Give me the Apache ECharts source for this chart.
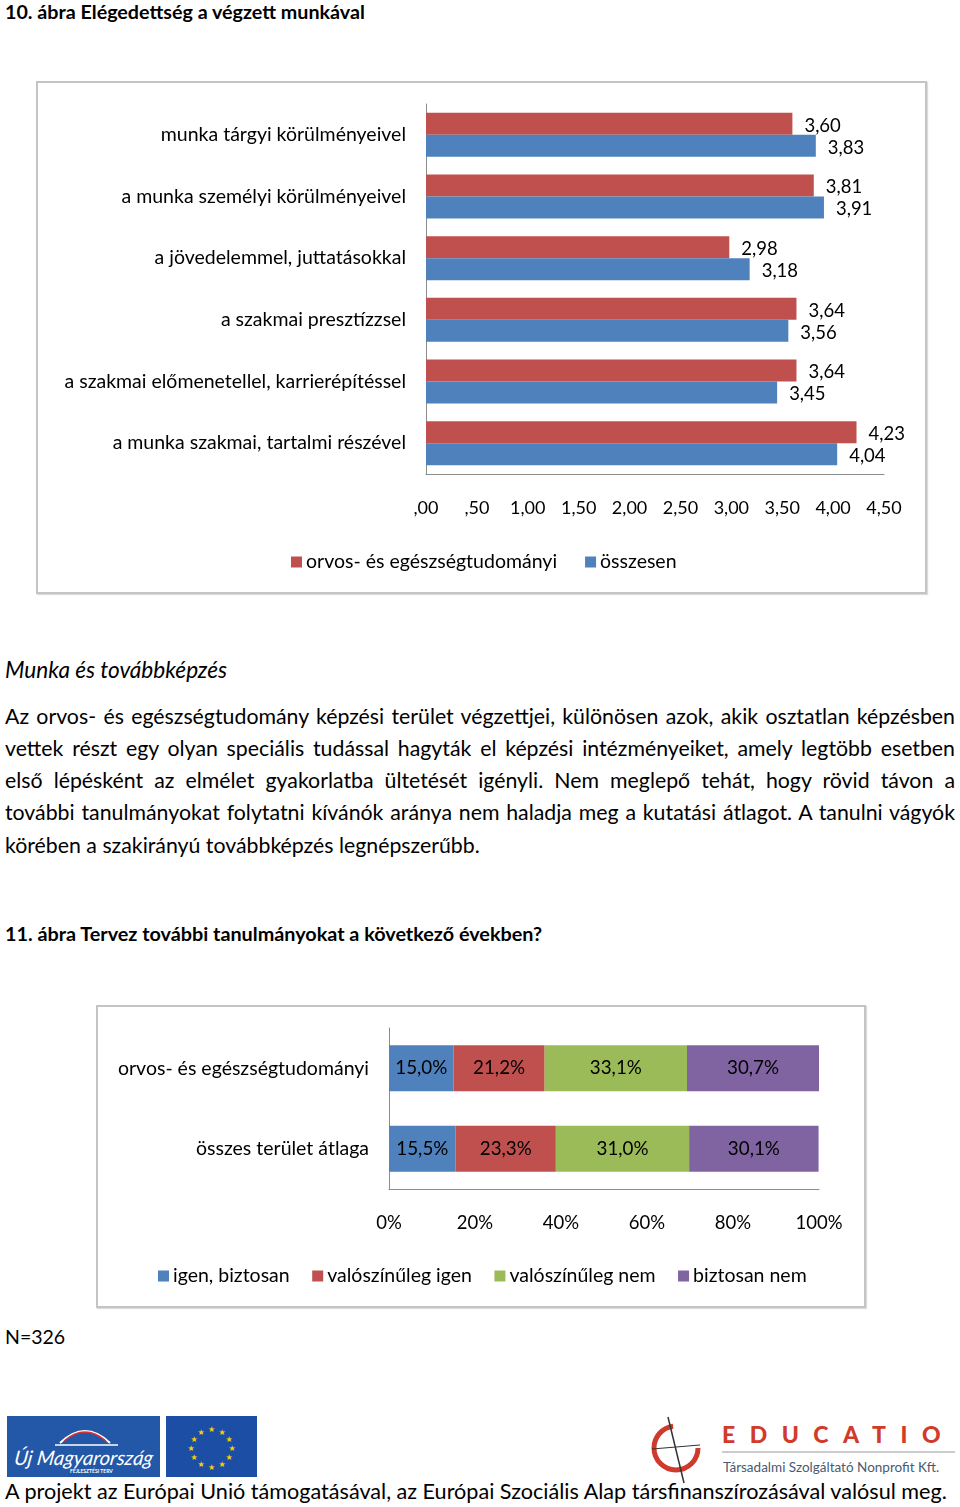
<!DOCTYPE html>
<html><head><meta charset="utf-8">
<script src="https://cdn.jsdelivr.net/npm/echarts@6/dist/echarts.min.js"></script>
<style>
html,body{margin:0;padding:0;background:#fff;}
body{width:960px;height:1507px;position:relative;overflow:hidden;font-family:Lato,"Open Sans",sans-serif;color:#000;}
.abs{position:absolute;}
.box{position:absolute;border:2px solid #c4c4c4;box-sizing:border-box;box-shadow:1px 1px 1px #ddd;}
.ln{position:absolute;left:5px;width:950px;font-size:21.3px;line-height:26px;white-space:nowrap;}
.j{text-align:justify;text-align-last:justify;white-space:normal;}
</style></head><body>
<div class="abs" style="left:5px;top:0px;font-size:19.7px;font-weight:bold;">10. ábra Elégedettség a végzett munkával</div>
<div class="box" style="left:36px;top:81px;width:891px;height:513px;"></div>
<div id="c1" class="abs" style="left:36px;top:81px;width:890px;height:512px;"></div>
<div class="abs" style="left:5px;top:656px;font-size:22.6px;font-style:italic;">Munka és továbbképzés</div>
<div class="ln j" style="top:703px;">Az orvos- és egészségtudomány képzési terület végzettjei, különösen azok, akik osztatlan képzésben</div>
<div class="ln j" style="top:735px;">vettek részt egy olyan speciális tudással hagyták el képzési intézményeiket, amely legtöbb esetben</div>
<div class="ln j" style="top:767px;">első lépésként az elmélet gyakorlatba ültetését igényli. Nem meglepő tehát, hogy rövid távon a</div>
<div class="ln j" style="top:799px;">további tanulmányokat folytatni kívánók aránya nem haladja meg a kutatási átlagot. A tanulni vágyók</div>
<div class="ln" style="top:832px;">körében a szakirányú továbbképzés legnépszerűbb.</div>
<div class="abs" style="left:5px;top:921px;font-size:19.8px;font-weight:bold;">11. ábra Tervez további tanulmányokat a következő években?</div>
<div class="box" style="left:96px;top:1005px;width:770px;height:303px;"></div>
<div id="c2" class="abs" style="left:96px;top:1005px;width:769px;height:302px;"></div>
<div class="abs" style="left:5px;top:1325px;font-size:19.5px;">N=326</div>

<svg class="abs" style="left:0;top:1405px" width="960" height="102">
  <rect x="7" y="11" width="153" height="61" fill="#2357a8"/>
  <path d="M60 38 Q85 14 110 38" stroke="#fff" stroke-width="2" fill="none"/>
  <path d="M64 36 Q85 18 106 36" stroke="#e03030" stroke-width="1.5" fill="none"/>
  <line x1="55" y1="40" x2="118" y2="40" stroke="#fff" stroke-width="1.5"/>
  <text x="14" y="60" fill="#fff" font-family="Lato" font-style="italic" font-size="20" transform="skewX(-8) translate(8,0)">Új Magyarország</text>
  <text x="70" y="68" fill="#fff" font-family="Lato" font-size="5" font-weight="bold">FEJLESZTÉSI TERV</text>
  <rect x="166" y="11" width="91" height="61" fill="#1d4ea5"/>
  <g fill="#f5d000" font-size="8" text-anchor="middle" font-family="DejaVu Sans">
    <text x="211.5" y="27">★</text><text x="222" y="30">★</text><text x="229" y="37">★</text>
    <text x="232" y="46">★</text><text x="229" y="55">★</text><text x="222" y="62">★</text>
    <text x="211.5" y="65">★</text><text x="201" y="62">★</text><text x="194" y="55">★</text>
    <text x="191" y="46">★</text><text x="194" y="37">★</text><text x="201" y="30">★</text>
  </g>
  <circle cx="676" cy="43" r="22" stroke="#cf3a2c" stroke-width="5" fill="none" stroke-dasharray="100 38"/>
  <line x1="668" y1="12" x2="684" y2="78" stroke="#333" stroke-width="1.5"/>
  <line x1="652" y1="44" x2="700" y2="40" stroke="#333" stroke-width="1"/>
  <text x="722" y="38" fill="#d23a2a" font-family="Lato" font-weight="900" font-size="23" letter-spacing="14.5">EDUCATIO</text>
  <line x1="722" y1="47" x2="955" y2="47" stroke="#999" stroke-width="1.2"/>
  <text x="723" y="67" fill="#4a5a70" font-family="Lato" font-size="13.5">Társadalmi Szolgáltató Nonprofit Kft.</text>
</svg>
<div class="abs" style="left:5px;top:1478px;font-size:21.6px;">A projekt az Európai Unió támogatásával, az Európai Szociális Alap társfinanszírozásával valósul meg.</div>

<script>
// Chart 1 data
const categories1 = ['munka tárgyi körülményeivel','a munka személyi körülményeivel','a jövedelemmel, juttatásokkal','a szakmai presztízzsel','a szakmai előmenetellel, karrierépítéssel','a munka szakmai, tartalmi részével'];
const seriesNames1 = ['orvos- és egészségtudományi','összesen'];
const orvosValues = [3.60, 3.81, 2.98, 3.64, 3.64, 4.23];
const osszesenValues = [3.83, 3.91, 3.18, 3.56, 3.45, 4.04];
const xTickLabels1 = [',00',',50','1,00','1,50','2,00','2,50','3,00','3,50','4,00','4,50'];

// Chart 2 data
const categories2 = ['orvos- és egészségtudományi','összes terület átlaga'];
const seriesNames2 = ['igen, biztosan','valószínűleg igen','valószínűleg nem','biztosan nem'];
const igenBiztosan = [15.0, 15.5];
const valIgen = [21.2, 23.3];
const valNem = [33.1, 31.0];
const biztosanNem = [30.7, 30.1];
const xTickLabels2 = ['0%','20%','40%','60%','80%','100%'];

const FONT = 'Lato';
const TXT = 19.5;
const fmt = v => v.toFixed(2).replace('.', ',');

const c1 = echarts.init(document.getElementById('c1'), null, {renderer:'canvas'});
const lbl1 = {show:true,position:'right',distance:12,offset:[0,2],fontSize:18.5,color:'#000',fontFamily:FONT,formatter:p=>fmt(p.value)};
c1.setOption({
  animation:false,
  textStyle:{fontFamily:FONT},
  color:['#C0504D','#4F81BD'],
  grid:{left:390,right:42,top:23,bottom:119,containLabel:false},
  legend:{left:250,top:466,itemWidth:11,itemHeight:11,itemGap:28,icon:'rect',
    textStyle:{fontFamily:FONT,fontSize:TXT,color:'#000',padding:[0,0,0,-1]},
    data:seriesNames1},
  xAxis:{type:'value',min:0,max:4.5,interval:0.5,
    axisLine:{show:true,lineStyle:{color:'#8c8c8c'}},axisTick:{show:false},splitLine:{show:false},
    axisLabel:{margin:25,fontSize:18,color:'#000',fontFamily:FONT,
      formatter:v=>xTickLabels1[Math.round(v/0.5)]}},
  yAxis:{type:'category',inverse:true,data:categories1,
    axisLine:{show:true,lineStyle:{color:'#8c8c8c'}},axisTick:{show:false},
    axisLabel:{margin:20,fontSize:TXT,color:'#000',fontFamily:FONT}},
  series:[
    {name:seriesNames1[0],type:'bar',data:orvosValues,barGap:'0%',barCategoryGap:'28.6%',label:lbl1},
    {name:seriesNames1[1],type:'bar',data:osszesenValues,barGap:'0%',barCategoryGap:'28.6%',label:lbl1}
  ]
});

const c2 = echarts.init(document.getElementById('c2'), null, {renderer:'canvas'});
const lbl2 = {show:true,position:'inside',fontSize:18.8,color:'#000',fontFamily:FONT,formatter:p=>p.value.toFixed(1).replace('.',',')+'%'};
const vals2 = [igenBiztosan,valIgen,valNem,biztosanNem];
c2.setOption({
  animation:false,
  textStyle:{fontFamily:FONT},
  color:['#4F81BD','#C0504D','#9BBB59','#8064A2'],
  grid:{left:293,right:46,top:23,bottom:118,containLabel:false},
  legend:{left:57,top:256,itemWidth:11,itemHeight:11,itemGap:22.5,icon:'rect',
    textStyle:{fontFamily:FONT,fontSize:TXT,color:'#000',padding:[0,0,0,-1]},
    data:seriesNames2},
  xAxis:{type:'value',min:0,max:100,interval:20,
    axisLine:{show:true,lineStyle:{color:'#8c8c8c'}},axisTick:{show:false},splitLine:{show:false},
    axisLabel:{margin:25,fontSize:18.5,color:'#000',fontFamily:FONT,
      formatter:v=>xTickLabels2[Math.round(v/20)]}},
  yAxis:{type:'category',inverse:true,data:categories2,
    axisLine:{show:true,lineStyle:{color:'#8c8c8c'}},axisTick:{show:false},
    axisLabel:{margin:20,fontSize:TXT,color:'#000',fontFamily:FONT}},
  series:seriesNames2.map((n,i)=>({name:n,type:'bar',stack:'s',data:vals2[i],barCategoryGap:'43%',label:lbl2}))
});
</script>
</body></html>
